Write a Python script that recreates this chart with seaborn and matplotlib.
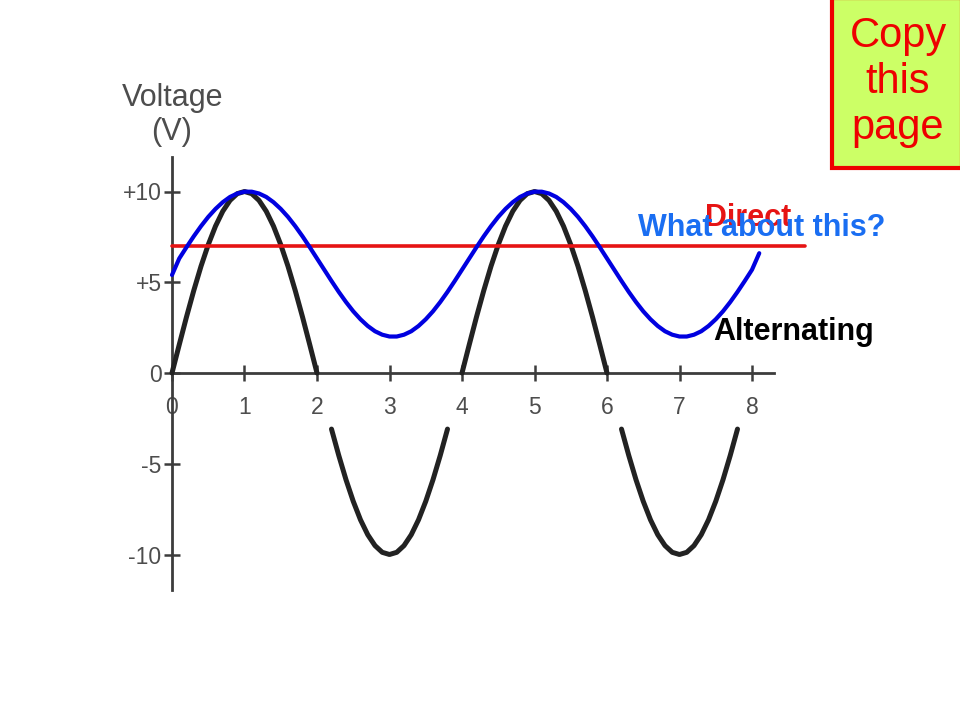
import numpy as np
import pandas as pd
import matplotlib
matplotlib.use("Agg")
import matplotlib.pyplot as plt
from matplotlib.patches import Rectangle
import seaborn as sns

# ---------------- data ----------------
# Alternating voltage, sampled every 0.1 time unit from 0 to 8
time_alt = [round(0.1 * i, 1) for i in range(81)]
alternating_v = [
    0, 1.56, 3.09, 4.54, 5.88, 7.07, 8.09, 8.91, 9.51, 9.88,
    10, 9.88, 9.51, 8.91, 8.09, 7.07, 5.88, 4.54, 3.09, 1.56,
    0, -1.56, -3.09, -4.54, -5.88, -7.07, -8.09, -8.91, -9.51, -9.88,
    -10, -9.88, -9.51, -8.91, -8.09, -7.07, -5.88, -4.54, -3.09, -1.56,
    0, 1.56, 3.09, 4.54, 5.88, 7.07, 8.09, 8.91, 9.51, 9.88,
    10, 9.88, 9.51, 8.91, 8.09, 7.07, 5.88, 4.54, 3.09, 1.56,
    0, -1.56, -3.09, -4.54, -5.88, -7.07, -8.09, -8.91, -9.51, -9.88,
    -10, -9.88, -9.51, -8.91, -8.09, -7.07, -5.88, -4.54, -3.09, -1.56,
    0,
]

# Varying (always positive) voltage, sampled every 0.1 from 0 to 8.1
time_var = [round(0.1 * i, 1) for i in range(82)]
varying_v = [
    5.4, 6.31, 6.93, 7.53, 8.09, 8.60, 9.04, 9.41, 9.70, 9.89,
    9.99, 9.99, 9.89, 9.70, 9.41, 9.04, 8.60, 8.09, 7.53, 6.93,
    6.31, 5.69, 5.07, 4.47, 3.91, 3.40, 2.96, 2.59, 2.30, 2.11,
    2.01, 2.01, 2.11, 2.30, 2.59, 2.96, 3.40, 3.91, 4.47, 5.07,
    5.69, 6.31, 6.93, 7.53, 8.09, 8.60, 9.04, 9.41, 9.70, 9.89,
    9.99, 9.99, 9.89, 9.70, 9.41, 9.04, 8.60, 8.09, 7.53, 6.93,
    6.31, 5.69, 5.07, 4.47, 3.91, 3.40, 2.96, 2.59, 2.30, 2.11,
    2.01, 2.01, 2.11, 2.30, 2.59, 2.96, 3.40, 3.91, 4.47, 5.07,
    5.69, 6.6,
]

# Direct voltage
time_dc = [0, 8.73]
direct_v = [7, 7]

x_ticks = [0, 1, 2, 3, 4, 5, 6, 7, 8]
x_tick_labels = ["0", "1", "2", "3", "4", "5", "6", "7", "8"]
y_ticks = [10, 5, 0, -5, -10]
y_tick_labels = ["+10", "+5", "0", "-5", "-10"]

# ---------------- styling ----------------
sns.set_style("white")
plt.rcParams["font.family"] = ["Liberation Sans", "DejaVu Sans"]

AXIS_GRAY = "#3c3c3c"
LABEL_GRAY = "#4d4d4d"
CURVE_BLACK = "#222222"
BLUE = "#0000e0"
RED = "#e61414"

W, H = 960, 720
fig = plt.figure(figsize=(9.6, 7.2), dpi=100)
fig.patch.set_facecolor("white")
ax = fig.add_axes([0, 0, 1, 1])
ax.set_facecolor("white")

# pixel calibration: x=0 at 172px, 72.5px/unit ; y=0 at 373px, 18.15px/unit
x0, xs = 172, 72.5
y0, ys = 373, 18.15
ax.set_xlim(-x0 / xs, (W - x0) / xs)
ax.set_ylim((y0 - H) / ys, y0 / ys)

# axes through origin
for s in ["top", "right"]:
    ax.spines[s].set_visible(False)
ax.spines["left"].set_position(("data", 0))
ax.spines["bottom"].set_position(("data", 0))
ax.spines["left"].set_bounds(-11.95, 11.9)
ax.spines["bottom"].set_bounds(0, 8.3)
for s in ["left", "bottom"]:
    ax.spines[s].set_color(AXIS_GRAY)
    ax.spines[s].set_linewidth(2.0)
    ax.spines[s].set_zorder(1)

ax.set_xticks(x_ticks)
ax.set_xticklabels(x_tick_labels)
ax.set_yticks(y_ticks)
ax.set_yticklabels(y_tick_labels)
ax.tick_params(axis="both", which="major", bottom=True, left=True,
               direction="inout", length=11, width=1.8,
               color=AXIS_GRAY, labelcolor=LABEL_GRAY, labelsize=16.5)
ax.tick_params(axis="x", pad=11)
ax.tick_params(axis="y", pad=2)

# Alternating curve (scan shows gaps where it crosses the tick-label row)
alt = np.array(alternating_v, dtype=float)
visible = ~((alt < -0.3) & (alt > -2.8))
seg = np.cumsum(~visible)
df_alt = pd.DataFrame({"t": time_alt, "v": alt, "seg": seg})[visible]
sns.lineplot(data=df_alt, x="t", y="v", units="seg", estimator=None, sort=False,
             color=CURVE_BLACK, linewidth=3.6, ax=ax, zorder=2)

# Direct line
df_dc = pd.DataFrame({"t": time_dc, "v": direct_v})
sns.lineplot(data=df_dc, x="t", y="v", color=RED, linewidth=2.6, ax=ax, zorder=3)

# Varying curve
df_var = pd.DataFrame({"t": time_var, "v": varying_v})
sns.lineplot(data=df_var, x="t", y="v", color=BLUE, linewidth=3.0, ax=ax,
             sort=False, zorder=4)
ax.set_xlabel("")
ax.set_ylabel("")


def px(x, y):
    return x / W, 1 - y / H


# Axis title
fig.text(*px(173, 98), "Voltage", ha="center", va="center",
         fontsize=22, color=LABEL_GRAY)
fig.text(*px(172, 132), "(V)", ha="center", va="center",
         fontsize=22, color=LABEL_GRAY)

# annotations
fig.text(*px(748, 226), "Direct", ha="center", va="baseline",
         fontsize=22, fontweight="bold", color=RED, zorder=5)
fig.text(*px(762, 236), "What about this?", ha="center", va="baseline",
         fontsize=22, fontweight="bold", color="#1a6ef2", zorder=6)
fig.text(*px(794, 340), "Alternating", ha="center", va="baseline",
         fontsize=22, fontweight="bold", color="black", zorder=6)

# "Copy this page" box
box = Rectangle(px(832, 168), (962 - 832) / W, 170 / H, transform=fig.transFigure,
                facecolor="#ccff66", edgecolor="#ee0000", linewidth=3, zorder=7)
fig.patches.append(box)
fig.text(*px(898, 82), "Copy\nthis\npage", ha="center", va="center",
         fontsize=30, color="#ee0000", linespacing=1.2, zorder=8)

fig.savefig("out.png", dpi=100, facecolor="white")
